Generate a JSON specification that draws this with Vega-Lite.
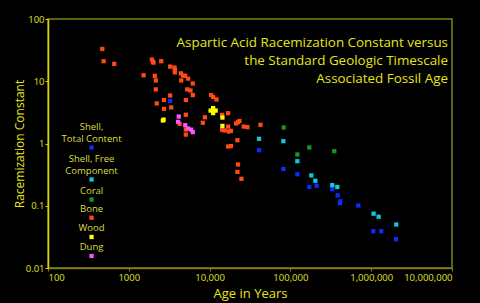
{
  "$schema": "https://vega.github.io/schema/vega-lite/v6.json",
  "autosize": {"type": "none"},
  "width": 404,
  "height": 249,
  "padding": {"left": 48, "top": 19, "right": 28, "bottom": 35},
  "background": "#000000",
  "title": {
    "text": ["Aspartic Acid Racemization Constant versus", "the Standard Geologic Timescale", "Associated Fossil Age"],
    "orient": "top",
    "anchor": "end",
    "frame": "group",
    "align": "right",
    "baseline": "top",
    "offset": 0,
    "dy": 71,
    "dx": -4,
    "font": "Open Sans",
    "fontSize": 13.4,
    "fontWeight": "normal",
    "color": "#e6e619",
    "lineHeight": 18
  },
  "config": {
    "view": {"stroke": "#80801a", "strokeWidth": 1.5},
    "font": "Open Sans",
    "axis": {
      "grid": false,
      "labelFont": "Open Sans",
      "titleFont": "Open Sans",
      "labelColor": "#e0e020",
      "titleColor": "#e6e619",
      "labelFontSize": 9.5,
      "titleFontSize": 13,
      "titleFontWeight": "normal"
    }
  },
  "datasets": {
    "pts": [
      {"t": "Bone", "age": 470, "k": 33},
      {"t": "Bone", "age": 488, "k": 21},
      {"t": "Bone", "age": 660, "k": 19},
      {"t": "Bone", "age": 1525, "k": 12.5},
      {"t": "Bone", "age": 1930, "k": 22.3},
      {"t": "Bone", "age": 1990, "k": 20.7},
      {"t": "Bone", "age": 2020, "k": 19.9},
      {"t": "Bone", "age": 2520, "k": 21},
      {"t": "Bone", "age": 2100, "k": 12.2},
      {"t": "Bone", "age": 2160, "k": 10.3},
      {"t": "Bone", "age": 2160, "k": 7.4},
      {"t": "Bone", "age": 2220, "k": 4.4},
      {"t": "Bone", "age": 2720, "k": 5.0},
      {"t": "Bone", "age": 2720, "k": 3.6},
      {"t": "Bone", "age": 3250, "k": 17.2},
      {"t": "Bone", "age": 3250, "k": 5.9},
      {"t": "Bone", "age": 3350, "k": 3.8},
      {"t": "Bone", "age": 3680, "k": 16.6},
      {"t": "Bone", "age": 3720, "k": 15.2},
      {"t": "Bone", "age": 3720, "k": 13.9},
      {"t": "Bone", "age": 4400, "k": 13.4},
      {"t": "Bone", "age": 4710, "k": 12.3},
      {"t": "Bone", "age": 4990, "k": 12.2},
      {"t": "Bone", "age": 4450, "k": 10.3},
      {"t": "Bone", "age": 5430, "k": 11.0},
      {"t": "Bone", "age": 6190, "k": 9.2},
      {"t": "Bone", "age": 5280, "k": 7.4},
      {"t": "Bone", "age": 5800, "k": 7.1},
      {"t": "Bone", "age": 6190, "k": 6.0},
      {"t": "Bone", "age": 5080, "k": 5.0},
      {"t": "Bone", "age": 5080, "k": 2.9},
      {"t": "Bone", "age": 4250, "k": 2.07},
      {"t": "Bone", "age": 5080, "k": 1.68},
      {"t": "Bone", "age": 5080, "k": 1.39},
      {"t": "Bone", "age": 10450, "k": 6.0},
      {"t": "Bone", "age": 11060, "k": 5.6},
      {"t": "Bone", "age": 12160, "k": 5.1},
      {"t": "Bone", "age": 8740, "k": 2.64},
      {"t": "Bone", "age": 8250, "k": 2.15},
      {"t": "Bone", "age": 14290, "k": 2.88},
      {"t": "Bone", "age": 16950, "k": 3.07},
      {"t": "Bone", "age": 14290, "k": 1.66},
      {"t": "Bone", "age": 15400, "k": 1.62},
      {"t": "Bone", "age": 16950, "k": 1.87},
      {"t": "Bone", "age": 17400, "k": 1.56},
      {"t": "Bone", "age": 18370, "k": 1.6},
      {"t": "Bone", "age": 16950, "k": 0.895},
      {"t": "Bone", "age": 18370, "k": 0.91},
      {"t": "Bone", "age": 21290, "k": 2.1},
      {"t": "Bone", "age": 22490, "k": 2.2},
      {"t": "Bone", "age": 23400, "k": 2.3},
      {"t": "Bone", "age": 22100, "k": 1.13},
      {"t": "Bone", "age": 26500, "k": 1.87},
      {"t": "Bone", "age": 29400, "k": 1.83},
      {"t": "Bone", "age": 42600, "k": 2.0},
      {"t": "Bone", "age": 22490, "k": 0.46},
      {"t": "Bone", "age": 22100, "k": 0.35},
      {"t": "Bone", "age": 24770, "k": 0.271},
      {"t": "Shell, Total Content", "age": 3250, "k": 4.8},
      {"t": "Shell, Total Content", "age": 40900, "k": 0.78},
      {"t": "Shell, Total Content", "age": 81800, "k": 0.39},
      {"t": "Shell, Total Content", "age": 121900, "k": 0.32},
      {"t": "Shell, Total Content", "age": 171400, "k": 0.2},
      {"t": "Shell, Total Content", "age": 211300, "k": 0.21},
      {"t": "Shell, Total Content", "age": 330000, "k": 0.185},
      {"t": "Shell, Total Content", "age": 384500, "k": 0.147},
      {"t": "Shell, Total Content", "age": 411000, "k": 0.11},
      {"t": "Shell, Total Content", "age": 416000, "k": 0.118},
      {"t": "Shell, Total Content", "age": 692000, "k": 0.101},
      {"t": "Shell, Total Content", "age": 1061000, "k": 0.039},
      {"t": "Shell, Total Content", "age": 1331000, "k": 0.039},
      {"t": "Shell, Total Content", "age": 2024000, "k": 0.029},
      {"t": "Shell, Free Component", "age": 40900, "k": 1.19},
      {"t": "Shell, Free Component", "age": 81800, "k": 1.09},
      {"t": "Shell, Free Component", "age": 121900, "k": 0.52},
      {"t": "Shell, Free Component", "age": 181600, "k": 0.307},
      {"t": "Shell, Free Component", "age": 203700, "k": 0.252},
      {"t": "Shell, Free Component", "age": 330000, "k": 0.215},
      {"t": "Shell, Free Component", "age": 381000, "k": 0.2},
      {"t": "Shell, Free Component", "age": 1071000, "k": 0.0745},
      {"t": "Shell, Free Component", "age": 1236000, "k": 0.0667},
      {"t": "Shell, Free Component", "age": 2042000, "k": 0.05},
      {"t": "Coral", "age": 82600, "k": 1.81},
      {"t": "Coral", "age": 121900, "k": 0.667},
      {"t": "Coral", "age": 171400, "k": 0.863},
      {"t": "Coral", "age": 349000, "k": 0.753},
      {"t": "Wood", "age": 2640, "k": 2.34},
      {"t": "Wood", "age": 2700, "k": 2.42},
      {"t": "Wood", "age": 11060, "k": 3.38},
      {"t": "Wood", "age": 10300, "k": 3.38},
      {"t": "Wood", "age": 11880, "k": 3.38},
      {"t": "Wood", "age": 11060, "k": 3.7},
      {"t": "Wood", "age": 11060, "k": 3.08},
      {"t": "Wood", "age": 14420, "k": 2.61},
      {"t": "Wood", "age": 14420, "k": 1.92},
      {"t": "Dung", "age": 4150, "k": 2.71},
      {"t": "Dung", "age": 4080, "k": 2.23},
      {"t": "Dung", "age": 5000, "k": 1.97},
      {"t": "Dung", "age": 5430, "k": 1.74},
      {"t": "Dung", "age": 5920, "k": 1.67},
      {"t": "Dung", "age": 6190, "k": 1.52}
    ],
    "leg": [
      {"t": "Shell, Total Content", "label": "Total Content", "top": "Shell,", "age": 346, "k": 0.861},
      {"t": "Shell, Free Component", "label": "Component", "top": "Shell, Free", "age": 346, "k": 0.264},
      {"t": "Coral", "label": "Coral", "top": "", "age": 346, "k": 0.126},
      {"t": "Bone", "label": "Bone", "top": "", "age": 346, "k": 0.0642},
      {"t": "Wood", "label": "Wood", "top": "", "age": 346, "k": 0.0315},
      {"t": "Dung", "label": "Dung", "top": "", "age": 346, "k": 0.0156}
    ]
  },
  "encoding": {
    "x": {
      "field": "age", "type": "quantitative",
      "scale": {"type": "log", "domain": [100, 10000000], "nice": false},
      "axis": {
        "title": "Age in Years",
        "values": [100, 1000, 10000, 100000, 1000000, 10000000],
        "labelExpr": "datum.value == 1000 ? '1000' : format(datum.value, ',')",
        "domainColor": "#80801a",
        "domainWidth": 1.5,
        "tickColor": "#80801a",
        "tickSize": 3,
        "labelPadding": 1,
        "titlePadding": 6
      }
    },
    "y": {
      "field": "k", "type": "quantitative",
      "scale": {"type": "log", "domain": [0.01, 100], "nice": false},
      "axis": {
        "title": "Racemization Constant",
        "titleFontSize": 12,
        "values": [0.01, 0.1, 1, 10, 100],
        "labelExpr": "'' + datum.value",
        "domainColor": "#d8d800",
        "domainWidth": 1.5,
        "tickColor": "#d8d800",
        "tickSize": 3,
        "labelPadding": 1,
        "titlePadding": -1
      }
    },
    "color": {
      "field": "t", "type": "nominal",
      "scale": {
        "domain": ["Shell, Total Content", "Shell, Free Component", "Coral", "Bone", "Wood", "Dung"],
        "range": ["#0a2cff", "#11c8d8", "#139a1c", "#ff4a12", "#ffff00", "#ff55ff"]
      },
      "legend": null
    }
  },
  "layer": [
    {
      "data": {"name": "pts"},
      "mark": {"type": "point", "shape": "square", "filled": true, "size": 18, "opacity": 1}
    },
    {
      "data": {"name": "leg"},
      "mark": {"type": "point", "shape": "square", "filled": true, "size": 18, "opacity": 1}
    },
    {
      "data": {"name": "leg"},
      "mark": {"type": "text", "baseline": "middle", "align": "center", "dy": -9, "fontSize": 9.5, "font": "Open Sans", "color": "#dcdc40"},
      "encoding": {
        "text": {"field": "label"},
        "color": {"value": "#dcdc40"}
      }
    },
    {
      "data": {"name": "leg"},
      "mark": {"type": "text", "baseline": "middle", "align": "center", "dy": -21, "fontSize": 9.5, "font": "Open Sans", "color": "#dcdc40"},
      "encoding": {
        "text": {"field": "top"},
        "color": {"value": "#dcdc40"}
      }
    }
  ]
}
